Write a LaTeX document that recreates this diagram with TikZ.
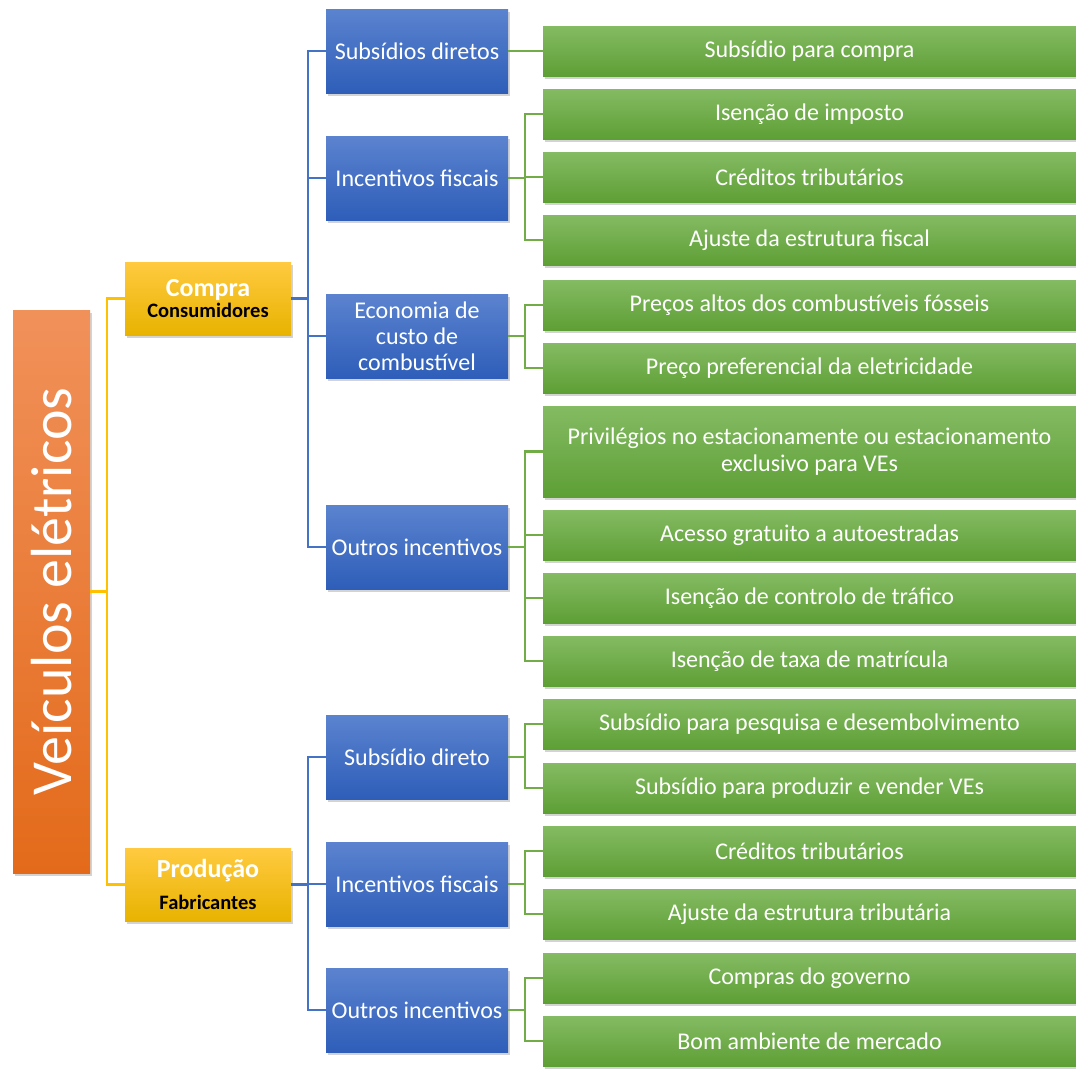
\documentclass[tikz,border=0pt]{standalone}
\usepackage{fontspec}
\setmainfont{Carlito}
\usetikzlibrary{shadows}
\definecolor{orangetop}{HTML}{F1915A}
\definecolor{orangebot}{HTML}{E36A1A}
\definecolor{goldtop}{HTML}{FFCA40}
\definecolor{goldbot}{HTML}{E8B300}
\definecolor{bluetop}{HTML}{5B83CF}
\definecolor{bluebot}{HTML}{2E5EB9}
\definecolor{greentop}{HTML}{84BB63}
\definecolor{greenbot}{HTML}{5E9F35}
\definecolor{lineyellow}{HTML}{FFC000}
\definecolor{lineblue}{HTML}{4472C4}
\definecolor{linegreen}{HTML}{70AD47}
\begin{document}
\begin{tikzpicture}[x=1pt,y=-1pt,
  box/.style={draw=none,text=white,align=center,inner sep=2pt,
    drop shadow={shadow xshift=2pt,shadow yshift=-3pt,opacity=0.35}},
  rootbox/.style={box,rotate=90,top color=orangetop,bottom color=orangebot,
    minimum width=563pt,minimum height=77pt,font=\fontsize{58}{62}\selectfont},
  catbox/.style={box,top color=goldtop,bottom color=goldbot,
    minimum width=166pt,minimum height=73pt},
  midbox/.style={box,top color=bluetop,bottom color=bluebot,
    minimum width=182pt,minimum height=84pt,font=\fontsize{24}{26}\selectfont},
  leafbox/.style={box,top color=greentop,bottom color=greenbot,
    minimum width=533pt,minimum height=50pt,font=\fontsize{24}{27}\selectfont},
  yline/.style={draw=lineyellow,line width=2.5pt},
  bline/.style={draw=lineblue,line width=2.5pt},
  gline/.style={draw=linegreen,line width=2.5pt}]
\useasboundingbox (0,0) rectangle (1076,1068);

\node[rootbox] (root) at (51.5,591.5) {Veículos elétricos};

\node[catbox] (compra) at (208,298.5) {{\fontsize{26}{26}\selectfont\bfseries Compra}\\[2pt]
  {\fontsize{20.5}{24}\selectfont\bfseries\color{black} Consumidores}};
\node[catbox] (producao) at (208,884.5) {{\fontsize{26}{26}\selectfont\bfseries Produção}\\[13pt]
  {\fontsize{20.5}{24}\selectfont\bfseries\color{black} Fabricantes}};

\node[midbox] (subdir) at (417,51) {Subsídios diretos};
\node[midbox] (fiscal) at (417,178) {Incentivos fiscais};
\node[midbox] (econ) at (417,336) {Economia de\\custo de\\combustível};
\node[midbox] (outros) at (417,547) {Outros incentivos};
\node[midbox] (psubdir) at (417,757) {Subsídio direto};
\node[midbox] (pfiscal) at (417,884) {Incentivos fiscais};
\node[midbox] (poutros) at (417,1010) {Outros incentivos};

\node[leafbox] (l1) at (809.5,51) {Subsídio para compra};
\node[leafbox] (l2) at (809.5,114) {Isenção de imposto};
\node[leafbox] (l3) at (809.5,177) {Créditos tributários};
\node[leafbox] (l4) at (809.5,240) {Ajuste da estrutura fiscal};
\node[leafbox] (l5) at (809.5,305) {Preços altos dos combustíveis fósseis};
\node[leafbox] (l6) at (809.5,368) {Preço preferencial da eletricidade};
\node[leafbox,minimum height=91pt] (l7) at (809.5,451.5) {Privilégios no estacionamente ou estacionamento\\exclusivo para VEs};
\node[leafbox] (l8) at (809.5,535) {Acesso gratuito a autoestradas};
\node[leafbox] (l9) at (809.5,598) {Isenção de controlo de tráfico};
\node[leafbox] (l10) at (809.5,661) {Isenção de taxa de matrícula};
\node[leafbox] (l11) at (809.5,724) {Subsídio para pesquisa e desembolvimento};
\node[leafbox] (l12) at (809.5,788) {Subsídio para produzir e vender VEs};
\node[leafbox] (l13) at (809.5,851) {Créditos tributários};
\node[leafbox] (l14) at (809.5,914) {Ajuste da estrutura tributária};
\node[leafbox] (l15) at (809.5,978) {Compras do governo};
\node[leafbox] (l16) at (809.5,1041) {Bom ambiente de mercado};

\foreach \c in {compra,producao}
  \draw[yline] (root.south) -- ++(17,0) |- (\c.west);
\foreach \m in {subdir,fiscal,econ,outros}
  \draw[bline] (compra.east) -- ++(17,0) |- (\m.west);
\foreach \m in {psubdir,pfiscal,poutros}
  \draw[bline] (producao.east) -- ++(17,0) |- (\m.west);

\draw[gline] (subdir.east) -- (l1.west);
\foreach \l in {l2,l3,l4}
  \draw[gline] (fiscal.east) -- ++(17,0) |- (\l.west);
\foreach \l in {l5,l6}
  \draw[gline] (econ.east) -- ++(17,0) |- (\l.west);
\foreach \l in {l7,l8,l9,l10}
  \draw[gline] (outros.east) -- ++(17,0) |- (\l.west);
\foreach \l in {l11,l12}
  \draw[gline] (psubdir.east) -- ++(17,0) |- (\l.west);
\foreach \l in {l13,l14}
  \draw[gline] (pfiscal.east) -- ++(17,0) |- (\l.west);
\foreach \l in {l15,l16}
  \draw[gline] (poutros.east) -- ++(17,0) |- (\l.west);
\end{tikzpicture}
\end{document}
